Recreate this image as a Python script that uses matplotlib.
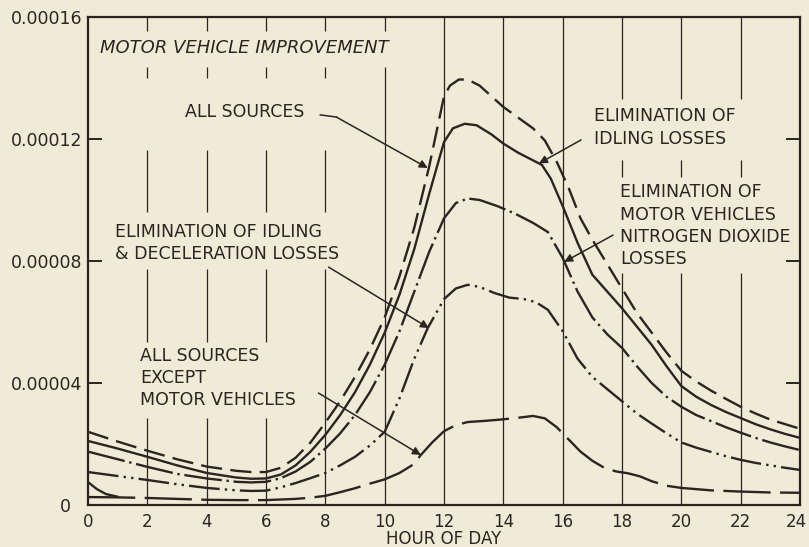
import matplotlib.pyplot as plt
from matplotlib.transforms import ScaledTranslation

PAPER = '#f0ebd7'
INK = '#2a2520'
UNIT = 1e-5  # concentrations below are in units of 1e-5

# hour of day / concentration for each control case
all_src_h = [0, 1, 2, 3, 4, 5, 5.5, 6, 6.5, 7, 7.5, 8, 8.5, 9, 9.5, 10, 10.5, 11, 11.5, 12,
             12.2, 12.5, 12.8, 13.2, 13.6, 14, 14.5, 15, 15.4, 15.8, 16.2, 16.6, 17, 17.5, 18,
             18.5, 19, 19.5, 20, 20.5, 21, 21.5, 22, 22.5, 23, 23.5, 24]
all_src_c = [2.40, 2.08, 1.78, 1.50, 1.26, 1.12, 1.08, 1.08, 1.22, 1.55, 2.05, 2.70, 3.40, 4.20,
             5.10, 6.15, 7.50, 9.10, 11.10, 13.40, 13.75, 13.95, 13.95, 13.75, 13.40, 13.05,
             12.70, 12.35, 11.95, 11.25, 10.40, 9.40, 8.70, 7.90, 7.10, 6.30, 5.65, 5.00, 4.40,
             4.05, 3.75, 3.48, 3.22, 3.00, 2.80, 2.65, 2.50]

idling_h = [0, 1, 2, 3, 4, 5, 5.5, 6, 6.5, 7, 7.5, 8, 8.5, 9, 9.5, 10, 10.5, 11, 11.5, 12,
            12.3, 12.7, 13.1, 13.6, 14, 14.5, 15, 15.3, 15.6, 16, 16.5, 17, 17.5, 18, 18.5, 19,
            19.5, 20, 20.5, 21, 21.5, 22, 22.5, 23, 23.5, 24]
idling_c = [2.10, 1.85, 1.58, 1.30, 1.05, 0.90, 0.86, 0.87, 1.00, 1.30, 1.75, 2.30, 2.95, 3.70,
            4.60, 5.65, 6.90, 8.40, 10.20, 11.90, 12.35, 12.50, 12.45, 12.15, 11.85, 11.55,
            11.30, 11.15, 10.70, 9.80, 8.60, 7.55, 7.00, 6.45, 5.85, 5.25, 4.55, 3.90, 3.55,
            3.28, 3.05, 2.85, 2.65, 2.48, 2.33, 2.20]

no2_h = [0, 1, 2, 3, 4, 5, 5.5, 6, 6.5, 7, 7.5, 8, 8.5, 9, 9.5, 10, 10.5, 11, 11.5, 12,
         12.4, 12.8, 13.2, 13.8, 14.4, 15, 15.5, 16, 16.5, 17, 17.5, 18, 18.5, 19, 19.5, 20,
         20.5, 21, 21.5, 22, 22.5, 23, 23.5, 24]
no2_c = [1.75, 1.50, 1.25, 1.02, 0.87, 0.76, 0.74, 0.76, 0.88, 1.10, 1.42, 1.85, 2.35, 2.95,
         3.70, 4.60, 5.70, 7.00, 8.30, 9.40, 9.90, 10.05, 10.00, 9.80, 9.55, 9.25, 8.95, 8.10,
         7.00, 6.15, 5.60, 5.15, 4.55, 4.00, 3.55, 3.22, 2.95, 2.75, 2.55, 2.37, 2.20, 2.05,
         1.92, 1.80]

decel_h = [0, 1, 2, 3, 4, 5, 5.5, 6, 6.5, 7, 7.5, 8, 8.5, 9, 9.5, 10, 10.5, 11, 11.45, 12,
           12.4, 12.8, 13.2, 13.7, 14.2, 14.7, 15.1, 15.5, 16, 16.5, 17, 17.5, 18, 18.5, 19,
           19.5, 20, 20.5, 21, 21.5, 22, 22.5, 23, 23.5, 24]
decel_c = [1.08, 0.95, 0.82, 0.68, 0.56, 0.48, 0.46, 0.47, 0.58, 0.72, 0.88, 1.05, 1.30, 1.58,
           1.95, 2.40, 3.50, 4.80, 5.80, 6.75, 7.10, 7.22, 7.15, 6.95, 6.80, 6.75, 6.65, 6.40,
           5.70, 4.80, 4.20, 3.80, 3.40, 3.00, 2.67, 2.35, 2.05, 1.88, 1.74, 1.60, 1.48, 1.38,
           1.30, 1.22, 1.15]

non_mv_h = [0, 1, 2, 3, 4, 5, 6, 7, 7.5, 8, 8.5, 9, 9.5, 10, 10.5, 11, 11.2, 11.6, 12, 12.4,
            12.8, 13.4, 13.9, 14.5, 15, 15.4, 15.8, 16.2, 16.6, 17, 17.4, 17.8, 18.2, 18.6, 19,
            19.5, 20, 20.5, 21, 22, 23, 24]
non_mv_c = [0.26, 0.25, 0.23, 0.20, 0.17, 0.16, 0.16, 0.20, 0.24, 0.30, 0.42, 0.55, 0.70, 0.84,
            1.05, 1.35, 1.62, 2.05, 2.42, 2.62, 2.72, 2.76, 2.80, 2.86, 2.92, 2.84, 2.55, 2.15,
            1.75, 1.45, 1.22, 1.10, 1.04, 0.94, 0.78, 0.63, 0.56, 0.52, 0.48, 0.44, 0.41, 0.40]

# short early-morning trace near the origin
early_h = [0, 0.3, 0.6, 1.0]
early_c = [0.75, 0.52, 0.36, 0.27]

hour_ticks = list(range(0, 25, 2))
conc_ticks = [0, 4, 8, 12, 16]
conc_labels = ['0  ', '0.00004', '0.00008', '0.00012', '0.00016']

fig = plt.figure(figsize=(8.09, 5.47), dpi=100, facecolor=PAPER)
ax = fig.add_axes([0.1088, 0.0768, 0.8801, 0.8921])
ax.set_facecolor(PAPER)
ax.set_xlim(0, 24)
ax.set_ylim(0, 16 * UNIT)

# vertical rulings, broken where lettering sits
gaps = [
    (range(2, 11, 2), 14.35, 15.55),
    (range(2, 9, 2), 11.65, 14.0),
    (range(2, 9, 2), 7.75, 9.6),
    (range(2, 7, 2), 2.85, 5.35),
    (range(18, 23, 2), 11.3, 13.3),
    (range(18, 23, 2), 7.6, 10.75),
]
for h in range(2, 24, 2):
    cuts = sorted((lo, hi) for xs, lo, hi in gaps if h in xs)
    start = 0.0
    for lo, hi in cuts:
        ax.vlines(h, start * UNIT, lo * UNIT, color=INK, lw=0.9)
        start = hi
    ax.vlines(h, start * UNIT, 16 * UNIT, color=INK, lw=0.9)

lw = 1.7
ax.plot(all_src_h, [c * UNIT for c in all_src_c], color=INK, lw=lw, ls=(0, (9, 3.5)))
ax.plot(idling_h, [c * UNIT for c in idling_c], color=INK, lw=lw)
ax.plot(no2_h, [c * UNIT for c in no2_c], color=INK, lw=lw, ls=(0, (16, 2, 1, 2)))
ax.plot(decel_h, [c * UNIT for c in decel_c], color=INK, lw=lw,
        ls=(0, (13, 2.2, 1, 2.2, 1, 2.2)))
ax.plot(non_mv_h, [c * UNIT for c in non_mv_c], color=INK, lw=lw, ls=(0, (20, 4)))
ax.plot(early_h, [c * UNIT for c in early_c], color=INK, lw=lw)

for side in ax.spines.values():
    side.set_color(INK)
    side.set_linewidth(1.6)

ax.set_xticks(hour_ticks, [str(h) for h in hour_ticks])
ax.set_yticks([c * UNIT for c in conc_ticks], conc_labels)
ax.tick_params(axis='x', length=0, pad=6, labelsize=12, labelcolor=INK)
ax.tick_params(axis='y', direction='in', length=10, width=1.4, color=INK,
               left=True, right=True, pad=4, labelsize=12.5, labelcolor=INK)
ax.set_xlabel('HOUR OF DAY', fontsize=12, color=INK, labelpad=-1)

# nudge the last hour label so it stays inside the figure edge
last = ax.xaxis.get_major_ticks()[-1].label1
last.set_transform(last.get_transform() + ScaledTranslation(-0.035, 0, fig.dpi_scale_trans))

txt = dict(fontsize=12.5, color=INK, linespacing=1.3)
ax.text(0.40, 14.98 * UNIT, 'MOTOR VEHICLE IMPROVEMENT', style='italic', va='center',
        fontsize=13, color=INK)
ax.text(3.28, 12.89 * UNIT, 'ALL SOURCES', va='center', **txt)
ax.text(0.91, 8.59 * UNIT, 'ELIMINATION OF IDLING\n& DECELERATION LOSSES', va='center', **txt)
ax.text(1.76, 4.16 * UNIT, 'ALL SOURCES\nEXCEPT\nMOTOR VEHICLES', va='center', **txt)
ax.text(17.06, 12.38 * UNIT, 'ELIMINATION OF\nIDLING LOSSES', va='center', **txt)
ax.text(17.94, 9.16 * UNIT, 'ELIMINATION OF\nMOTOR VEHICLES\nNITROGEN DIOXIDE\nLOSSES',
        va='center', **txt)

arrow = dict(arrowstyle='-|>', color=INK, lw=1.1, mutation_scale=12, shrinkA=0, shrinkB=0)
ax.plot([7.83, 8.37], [12.79 * UNIT, 12.72 * UNIT], color=INK, lw=1.1)
ax.annotate('', xy=(11.45, 11.05 * UNIT), xytext=(8.37, 12.72 * UNIT), arrowprops=arrow)
ax.annotate('', xy=(11.49, 5.80 * UNIT), xytext=(8.11, 7.80 * UNIT), arrowprops=arrow)
ax.annotate('', xy=(11.22, 1.64 * UNIT), xytext=(7.77, 3.67 * UNIT), arrowprops=arrow)
ax.annotate('', xy=(15.20, 11.20 * UNIT), xytext=(16.62, 11.97 * UNIT), arrowprops=arrow)
ax.annotate('', xy=(16.05, 7.97 * UNIT), xytext=(17.70, 8.85 * UNIT), arrowprops=arrow)

fig.savefig('out.png', dpi=100, facecolor=PAPER)
